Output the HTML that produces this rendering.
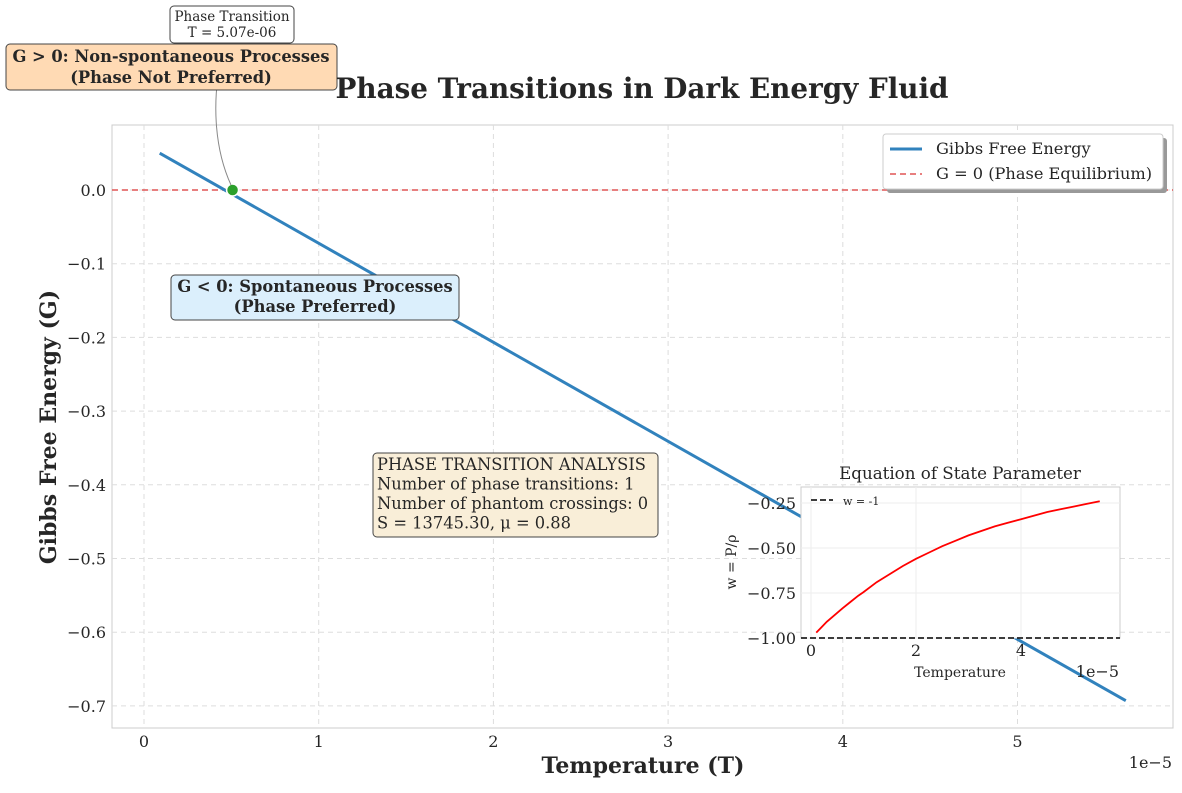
<!DOCTYPE html>
<html><head><meta charset="utf-8"><style>
body{margin:0;background:#fff;}
svg text{font-family:"DejaVu Serif","Liberation Serif",serif;fill:#262626;}
</style></head><body>
<svg id="c" width="1182" height="788" xmlns="http://www.w3.org/2000/svg">
<rect width="1182" height="788" fill="#fff"/>
<g id="main"></g>
<g id="inset"></g>
</svg>
<script>
const xTicks=[0,1,2,3,4,5];
const yTicks=[0.0,-0.1,-0.2,-0.3,-0.4,-0.5,-0.6,-0.7];
const gibbsT=[0.09,5.62];
const gibbsG=[0.05,-0.693];
const transitionT=[0.507];
const transitionG=[0];
const insetT=[0.1,0.2,0.3,0.4,0.5,0.6,0.75,0.9,1,1.25,1.5,1.75,2,2.25,2.5,2.75,3,3.25,3.5,3.75,4,4.25,4.5,4.75,5,5.25,5.5];
const insetW=[-0.97,-0.94,-0.91,-0.885,-0.86,-0.835,-0.80,-0.765,-0.745,-0.69,-0.645,-0.60,-0.56,-0.525,-0.49,-0.46,-0.43,-0.405,-0.38,-0.36,-0.34,-0.32,-0.30,-0.285,-0.27,-0.255,-0.24];
const insetXTicks=[0,2,4];
const insetYTicks=[-0.25,-0.5,-0.75,-1.0];
const NS="http://www.w3.org/2000/svg";
function mk(p,tag,a,txt){const e=document.createElementNS(NS,tag);for(const k in a)e.setAttribute(k,a[k]);if(txt!==undefined)e.textContent=txt;p.appendChild(e);return e;}
const X=t=>144+t*174.7, Y=g=>190-g*737;
const m=document.getElementById('main');
let e=mk(m,'rect',{x:112,y:125,width:1061,height:603,fill:'#fff',stroke:'#ccc','stroke-width':1});


xTicks.forEach(t=>{
 let l=mk(m,'line',{x1:X(t),x2:X(t),y1:125,y2:728,stroke:'#ddd','stroke-dasharray':'5,4'});
 
 
 let tx=mk(m,'text',{x:X(t),y:747,'text-anchor':'middle','font-size':16},String(t));
 
 
});
yTicks.forEach(g=>{
 let l=mk(m,'line',{x1:112,x2:1173,y1:Y(g),y2:Y(g),stroke:'#ddd','stroke-dasharray':'5,4'});
 
 
 let tx=mk(m,'text',{x:106,y:Y(g)+6,'text-anchor':'end','font-size':16},(g<0?'\u2212':'')+Math.abs(g).toFixed(1));
 
 
});
e=mk(m,'line',{x1:112,x2:1173,y1:Y(0),y2:Y(0),stroke:'#e05555','stroke-width':1.6,'stroke-dasharray':'6,4'});


e=mk(m,'polyline',{points:gibbsT.map((t,i)=>X(t)+','+Y(gibbsG[i])).join(' '),fill:'none',stroke:'#3182bd','stroke-width':3});


transitionT.forEach((t,i)=>{
 let c=mk(m,'circle',{cx:X(t),cy:Y(transitionG[i]),r:6,fill:'#2ca02c',stroke:'#fff','stroke-width':1.5});
 
 
});
e=mk(m,'path',{d:'M224,46 C210,100 215,150 231,185',fill:'none',stroke:'#888','stroke-width':1});


function box(x,y,w,h,fill,name){let r=mk(m,'rect',{x,y,width:w,height:h,rx:4,fill,stroke:'#444','stroke-width':1});}
box(170,6,124,37,'#fff','transition-annotation');
mk(m,'text',{x:232,y:21,'text-anchor':'middle','font-size':13.5},'Phase Transition');
mk(m,'text',{x:232,y:37,'text-anchor':'middle','font-size':13.5},'T = 5.07e-06');
box(6,44,331,46,'#ffdab4','positive-g-box');
mk(m,'text',{x:171,y:62,'text-anchor':'middle','font-size':16.3,'font-weight':'bold'},'G > 0: Non-spontaneous Processes');
mk(m,'text',{x:171,y:83,'text-anchor':'middle','font-size':16.3,'font-weight':'bold'},'(Phase Not Preferred)');
box(171,275,288,45,'#dbeffc','negative-g-box');
mk(m,'text',{x:315,y:292,'text-anchor':'middle','font-size':16.3,'font-weight':'bold'},'G < 0: Spontaneous Processes');
mk(m,'text',{x:315,y:312,'text-anchor':'middle','font-size':16.3,'font-weight':'bold'},'(Phase Preferred)');
box(373,453,285,84,'#f9eed8','analysis-box');
['PHASE TRANSITION ANALYSIS','Number of phase transitions: 1','Number of phantom crossings: 0','S = 13745.30, \u03bc = 0.88'].forEach((s,i)=>mk(m,'text',{x:377,y:470+i*19.5,'font-size':16.3},s));
mk(m,'text',{x:642,y:98,'text-anchor':'middle','font-size':27.8,'font-weight':'bold'},'Phase Transitions in Dark Energy Fluid');
mk(m,'text',{x:643,y:773,'text-anchor':'middle','font-size':22,'font-weight':'bold'},'Temperature (T)');
mk(m,'text',{x:0,y:0,'text-anchor':'middle','font-size':22,'font-weight':'bold',transform:'translate(56,427) rotate(-90)'},'Gibbs Free Energy (G)');
mk(m,'text',{x:1172,y:768,'text-anchor':'end','font-size':16},'1e\u22125');
mk(m,'rect',{x:887,y:138,width:280,height:55,rx:3,fill:'#999'});
e=mk(m,'rect',{x:883,y:134,width:280,height:55,rx:3,fill:'#fff',stroke:'#ccc'});


mk(m,'line',{x1:890,x2:922,y1:149,y2:149,stroke:'#3182bd','stroke-width':3});
mk(m,'text',{x:936,y:154,'font-size':16.2},'Gibbs Free Energy');
mk(m,'line',{x1:890,x2:922,y1:174,y2:174,stroke:'#e05555','stroke-width':1.6,'stroke-dasharray':'6,4'});
mk(m,'text',{x:936,y:179,'font-size':16.2},'G = 0 (Phase Equilibrium)');
const n=document.getElementById('inset');
const IX=t=>811+t*52.5, IY=w=>503-(w+0.25)*180;
e=mk(n,'rect',{x:801,y:487,width:319,height:151,fill:'#fff',stroke:'#ccc'});


insetXTicks.forEach(t=>{mk(n,'line',{x1:IX(t),x2:IX(t),y1:487,y2:638,stroke:'#eee'});
 let tx=mk(n,'text',{x:IX(t),y:656,'text-anchor':'middle','font-size':16},String(t));
 
 });
insetYTicks.forEach(w=>{mk(n,'line',{x1:801,x2:1120,y1:IY(w),y2:IY(w),stroke:'#eee'});
 let tx=mk(n,'text',{x:796,y:IY(w)+6,'text-anchor':'end','font-size':16},'\u2212'+Math.abs(w).toFixed(2));
 
 });
mk(n,'line',{x1:801,x2:1120,y1:IY(-1),y2:IY(-1),stroke:'#222','stroke-width':1.8,'stroke-dasharray':'6,3'});
e=mk(n,'polyline',{points:insetT.map((t,i)=>IX(t)+','+IY(insetW[i])).join(' '),fill:'none',stroke:'#f00','stroke-width':1.8});


mk(n,'line',{x1:811,x2:833,y1:500,y2:500,stroke:'#222','stroke-width':1.8,'stroke-dasharray':'6,3'});
mk(n,'text',{x:843,y:505,'font-size':11},'w = -1');
mk(n,'text',{x:960,y:479,'text-anchor':'middle','font-size':16.7},'Equation of State Parameter');
mk(n,'text',{x:960,y:677,'text-anchor':'middle','font-size':14},'Temperature');
mk(n,'text',{x:0,y:0,'text-anchor':'middle','font-size':14,transform:'translate(736,562) rotate(-90)'},'w = P/\u03c1');
mk(n,'text',{x:1119,y:677,'text-anchor':'end','font-size':16},'1e\u22125');
</script>
</body></html>
